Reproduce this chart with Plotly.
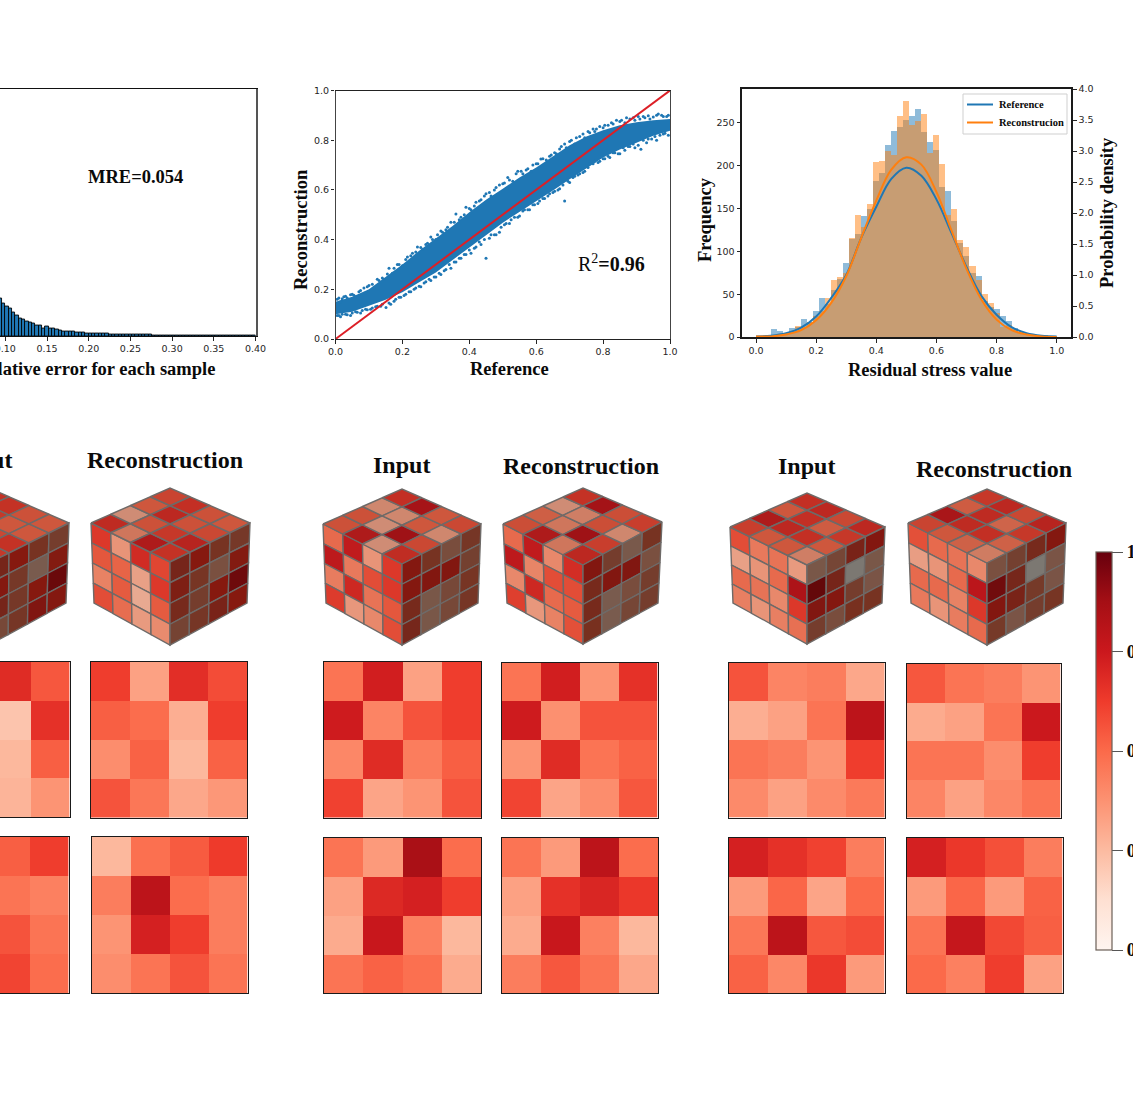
import numpy as np
import plotly.graph_objects as go

W, H = 1133, 1097
SERIF = "Liberation Serif"
SANS = "DejaVu Sans"
INK = "#262626"

# ---------- relative error histogram ----------
error_bin_starts = [round(0.092 + 0.004 * i, 3) for i in range(77)]
error_counts = [380, 330, 300, 280, 240, 210, 180, 167, 143, 137, 130, 110, 103, 80, 93, 80, 80, 67, 53, 47,
                45, 43, 42, 38, 35, 32, 30, 28, 26, 25, 24, 22, 21, 20, 19, 18, 19, 17, 15, 15,
                14, 13, 13, 12, 11, 11, 10, 10, 9, 9, 8, 8, 8, 7, 7, 7, 6, 6, 6, 5,
                5, 5, 5, 4, 4, 4, 4, 4, 3, 3, 3, 3, 3, 3, 2, 2, 2]
error_ticks = [0.10, 0.15, 0.20, 0.25, 0.30, 0.35, 0.40]

# ---------- reference / reconstruction scatter ----------
band_x = [0, .05, .1, .15, .2, .25, .3, .35, .4, .45, .5, .55, .6, .65, .7, .75, .8, .85, .9, .95, 1]
band_upper = [.15, .17, .2, .25, .3, .355, .405, .455, .51, .56, .605, .65, .69, .735, .78, .815, .84, .86, .872, .88, .885]
band_lower = [.1, .11, .135, .158, .188, .228, .268, .318, .368, .418, .468, .512, .555, .598, .643, .688, .73, .763, .79, .818, .838]
stray_x = [.005, .015, .025, .035, .05, .06, .075, .09, .1, .115, .13, .145, .16, .17, .185, .2, .215, .23, .245, .26,
           .27, .285, .3, .315, .33, .345, .36, .375, .39, .405, .42, .435, .45, .465, .48, .5, .515, .53, .545, .56,
           .57, .585, .6, .614, .63, .645, .66, .675, .69, .7, .715, .73, .745, .76, .775, .78, .8, .815, .83, .85,
           .865, .88, .895, .91, .925, .94, .965, .98, .995,
           .005, .015, .03, .045, .06, .075, .09, .105, .12, .135, .151, .165, .18, .195, .21, .225, .24, .255, .27, .285,
           .3, .315, .33, .345, .36, .375, .39, .405, .42, .435, .45, .46, .475, .49, .505, .52, .535, .55, .565, .58,
           .595, .61, .625, .64, .655, .67, .685, .70, .715, .73, .745, .76, .775, .79, .805, .82, .835, .85, .865, .88,
           .895, .913, .93, .945, .96, .98, .995]
stray_y = [.16, .15, .17, .165, .18, .17, .195, .185, .215, .205, .235, .24, .285, .265, .30, .295, .33, .345, .37, .36,
           .38, .41, .40, .435, .44, .47, .503, .49, .53, .52, .55, .56, .585, .575, .61, .625, .65, .635, .675, .665,
           .68, .675, .705, .724, .72, .74, .745, .775, .77, .795, .785, .815, .81, .83, .835, .845, .85, .86, .865, .875,
           .87, .885, .88, .885, .89, .885, .905, .895, .9,
           .095, .09, .10, .095, .11, .105, .12, .12, .13, .132, .127, .14, .16, .168, .18, .19, .205, .21, .23, .235,
           .25, .26, .28, .285, .31, .325, .34, .345, .37, .38, .325, .405, .42, .43, .46, .465, .49, .495, .52, .52,
           .54, .555, .565, .585, .595, .605, .555, .63, .655, .665, .675, .705, .715, .715, .725, .73, .75, .745, .76, .775,
           .77, .764, .79, .805, .80, .825, .82]
upper_rim_x = [.01, .02, .03, .045, .055, .07, .085, .095, .11, .125, .14, .155, .175, .19, .21, .225, .24, .255, .275, .29,
               .305, .32, .335, .355, .37, .385, .4, .415, .43, .445, .46, .475, .49, .505, .52, .54, .555, .575, .59, .605,
               .62, .64, .655, .67, .685, .705, .72, .74, .755, .77, .79, .805, .825, .84, .855, .87, .89, .905, .92, .935,
               .95, .96, .975, .99]
upper_rim_y = [.165, .162, .172, .178, .176, .19, .205, .21, .22, .24, .245, .262, .285, .30, .32, .335, .35, .368, .385, .40,
               .42, .43, .45, .47, .48, .50, .525, .535, .555, .575, .59, .60, .62, .628, .64, .665, .675, .685, .70, .705,
               .725, .735, .75, .765, .785, .80, .81, .825, .835, .845, .855, .86, .87, .88, .88, .89, .89, .895, .895, .898,
               .893, .9, .9, .895]
lower_rim_x = [.01, .02, .035, .05, .065, .08, .095, .11, .125, .14, .16, .175, .19, .205, .22, .235, .25, .265, .28, .295,
               .31, .325, .34, .355, .37, .385, .4, .415, .43, .445, .465, .48, .495, .51, .525, .545, .56, .575, .59, .605,
               .62, .635, .65, .665, .68, .695, .71, .725, .74, .755, .77, .785, .80, .815, .83, .845, .86, .875, .89, .905,
               .92, .935, .955, .97, .985]
lower_rim_y = [.095, .1, .098, .105, .108, .115, .118, .125, .132, .14, .145, .152, .168, .175, .19, .2, .212, .225, .24, .25,
               .265, .275, .3, .31, .325, .34, .358, .365, .39, .4, .42, .42, .45, .465, .48, .49, .515, .52, .54, .545,
               .565, .575, .59, .6, .62, .635, .65, .66, .67, .69, .705, .71, .725, .735, .75, .745, .77, .775, .785, .78,
               .8, .805, .815, .82, .828]
identity_line = [0, 1]
unit_ticks = [0, .2, .4, .6, .8, 1.0]

# ---------- residual stress distributions ----------
stress_bins = [round(.02 + .02 * i, 2) for i in range(49)]
reference_freq = [1, 2, 9, 7, 5, 10, 12, 21, 18, 30, 45, 38, 55, 68, 86, 115, 120, 141, 150, 182, 192, 224, 241, 245, 253,
                  258, 266, 240, 228, 218, 175, 171, 135, 110, 95, 75, 71, 42, 35, 33, 24, 19, 11, 6, 4, 3, 2, 2, 1]
reconstruction_freq = [.5, 1, 2, 3, 4, 7, 13, 12, 17, 24, 30, 45, 67, 70, 75, 116, 142, 128, 155, 204, 206, 217, 213, 258, 276,
                       248, 252, 260, 215, 236, 202, 143, 150, 113, 105, 83, 67, 50, 40, 28, 12, 14, 9, 5, 3, 2, 1.5, 1, .5]
density_x = [0, .05, .1, .15, .2, .25, .3, .35, .4, .45, .5, .55, .6, .65, .7, .75, .8, .85, .9, .95, 1]
reference_density = [.01, .02, .06, .15, .33, .63, 1.0, 1.6, 2.1, 2.55, 2.73, 2.6, 2.22, 1.68, 1.13, .66, .36, .16, .06, .02, .01]
reconstruction_density = [.01, .01, .04, .11, .27, .55, .98, 1.6, 2.2, 2.7, 2.9, 2.78, 2.34, 1.72, 1.1, .6, .28, .11, .04, .01, 0]

# ---------- slice fields shown under each cube ----------
slice_a1 = [[.68, .55], [.22, .66], [.26, .53], [.27, .37]]
slice_a2 = [[.53, .62], [.47, .43], [.56, .47], [.60, .49]]
slice_b1 = [[.62, .33, .67, .58], [.53, .49, .29, .62], [.39, .52, .26, .52], [.56, .46, .31, .36]]
slice_b2 = [[.26, .48, .54, .63], [.44, .80, .49, .44], [.37, .72, .62, .44], [.39, .47, .56, .47]]
slice_c1 = [[.47, .73, .33, .62], [.74, .42, .56, .62], [.41, .68, .44, .53], [.61, .32, .37, .56]]
slice_c2 = [[.47, .35, .86, .49], [.33, .69, .72, .62], [.30, .76, .43, .26], [.47, .52, .48, .30]]
slice_d1 = [[.47, .73, .37, .66], [.74, .38, .56, .56], [.37, .68, .47, .52], [.60, .32, .39, .55]]
slice_d2 = [[.47, .35, .80, .49], [.33, .66, .70, .64], [.30, .76, .43, .26], [.44, .55, .47, .31]]
slice_e1 = [[.56, .42, .44, .31], [.29, .33, .47, .80], [.47, .44, .37, .62], [.40, .33, .40, .45]]
slice_e2 = [[.72, .66, .61, .44], [.35, .51, .32, .50], [.46, .80, .55, .58], [.52, .41, .64, .35]]
slice_f1 = [[.55, .47, .44, .37], [.30, .33, .47, .75], [.47, .47, .39, .62], [.42, .33, .41, .47]]
slice_f2 = [[.72, .64, .57, .44], [.35, .51, .35, .52], [.47, .77, .59, .53], [.50, .43, .62, .33]]

# ---------- top and right faces of each cube ----------
top_a = [[.50, .50, .55, .60], [.55, .55, .55, .62], [.50, .60, .50, .50], [.62, .62, .52, .50]]
right_a = [[.60, .70, .48, .42], [.72, .45, .25, .68], [.60, .45, .70, .92], [.35, .46, .78, .72]]
top_b = [[.65, .38, .72, .62], [.30, .52, .60, .68], [.50, .66, .52, .55], [.56, .63, .52, .50]]
right_b = [[.60, .70, .48, .45], [.65, .47, .30, .68], [.55, .42, .70, .90], [.38, .46, .62, .70]]
top_c = [[.52, .72, .30, .64], [.52, .30, .78, .55], [.32, .32, .50, .32], [.63, .75, .50, .55]]
right_c = [[.72, .48, .32, .46], [.72, .75, .75, .40], [.55, .27, .35, .47], [.58, .27, .35, .46]]
top_d = [[.53, .72, .38, .66], [.47, .38, .78, .58], [.30, .35, .53, .32], [.62, .76, .53, .58]]
right_d = [[.75, .42, .26, .48], [.55, .75, .76, .30], [.55, .25, .32, .42], [.50, .25, .36, .42]]
top_e = [[.58, .50, .50, .35], [.72, .66, .63, .50], [.50, .63, .48, .60], [.63, .66, .55, .66]]
right_e = [[.27, .36, .62, .74], [.95, .60, .10, .27], [.76, .72, .42, .28], [.42, .32, .50, .48]]
top_f = [[.56, .50, .46, .36], [.74, .65, .63, .46], [.48, .65, .45, .60], [.60, .66, .55, .68]]
right_f = [[.30, .40, .55, .72], [.88, .58, .10, .28], [.74, .62, .44, .28], [.44, .28, .42, .47]]

# ---------- colour bar ----------
bar_ticks = [0, .25, .5, .75, 1]
bar_labels = ["0.00", "0.25", "0.50", "0.75", "1.00"]

REDS = ["#fff5f0", "#fee0d2", "#fcbba1", "#fc9272", "#fb6a4a", "#ef3b2c", "#cb181d", "#a50f15", "#67000d"]
# Shadowed side of a cube: tones stay brown and grey where the field is low.
SHADOW_LEVELS = [.1, .2, .3, .4, .5, .6, .7, .8, .9, 1]
SHADOW = ["#7c7872", "#78665c", "#7a5040", "#744030", "#78301f", "#76251a", "#86190f", "#7e1512", "#6e0a0c", "#5a0508"]


def rgb(hex_colour):
    return [int(hex_colour[i:i + 2], 16) for i in (1, 3, 5)]


def lerp_colour(v, levels, colours, gain=1.0):
    table = np.array([rgb(c) for c in colours], float)
    out = [np.interp(v, levels, table[:, k]) * gain for k in range(3)]
    return "rgb({:.0f},{:.0f},{:.0f})".format(*out)


def lit(v, gain):
    return lerp_colour(v, np.linspace(0, 1, 9), REDS, gain)


def shadow(v):
    return lerp_colour(v, SHADOW_LEVELS, SHADOW)


def x_dom(left, right):
    return [max(left, 0) / W, min(right, W) / W]


def y_dom(top, bottom):
    return [1 - bottom / H, 1 - top / H]


fig = go.Figure()
annotations = []
shapes = []
layout_axes = {}


def label(text, x, y, size=18.5, rotate=0, anchor="center", weight="bold"):
    body = f"<b>{text}</b>" if weight == "bold" else text
    annotations.append(dict(text=body, x=x / W, y=1 - y / H, xref="paper", yref="paper",
                            xanchor=anchor, yanchor="middle", showarrow=False, textangle=rotate,
                            font=dict(family=SERIF, size=size, color="#0a0a0a")))


def box_shape(kind, x0, y0, x1, y1, **style):
    shapes.append(dict(type=kind, xref="paper", yref="paper", x0=x0 / W, x1=x1 / W, y0=1 - y0 / H, y1=1 - y1 / H, **style))


tick_style = dict(ticks="outside", ticklen=3.5, tickwidth=0.9, tickcolor=INK, showgrid=False, zeroline=False,
                  tickfont=dict(family=SANS, size=9.5, color=INK))

# Panel 1: relative error histogram, its left part runs past the page edge
fig.add_trace(go.Bar(x=[s + .002 for s in error_bin_starts], y=error_counts, width=.004,
                     marker=dict(color="#1f77b4", line=dict(color="#000000", width=.9)),
                     xaxis="x", yaxis="y", showlegend=False))
layout_axes["xaxis"] = dict(domain=x_dom(0, 255.5), range=[.0936, .40], anchor="y", showline=True, mirror=True,
                            linecolor="#111111", linewidth=1.2, tickvals=error_ticks, ticktext=[f"{t:.2f}" for t in error_ticks],
                            ticklabeloverflow="allow", **tick_style)
layout_axes["yaxis"] = dict(domain=y_dom(88.5, 336), range=[0, 2475], anchor="x", side="right", showline=True,
                            linecolor="#555555", linewidth=1.6, showticklabels=False, ticks="", showgrid=False, zeroline=False)
label("MRE=0.054", 135, 177)
label("Relative error for each sample", 217, 369, anchor="right")

# Panel 2: reconstruction against reference
band_xs = band_x + band_x[::-1]
band_ys = band_upper + band_lower[::-1]
fig.add_trace(go.Scatter(x=band_xs, y=band_ys, mode="lines", fill="toself", fillcolor="#1f77b4",
                         line=dict(width=0, color="#1f77b4"), xaxis="x2", yaxis="y2", showlegend=False))
fig.add_trace(go.Scatter(x=stray_x + upper_rim_x + lower_rim_x, y=stray_y + upper_rim_y + lower_rim_y, mode="markers",
                         marker=dict(color="#1f77b4", size=3), xaxis="x2", yaxis="y2", showlegend=False))
fig.add_trace(go.Scatter(x=identity_line, y=identity_line, mode="lines", line=dict(color="#dc1f26", width=2),
                         xaxis="x2", yaxis="y2", showlegend=False))
layout_axes["xaxis2"] = dict(domain=x_dom(335.5, 670), range=[0, 1], anchor="y2", showline=True, mirror=True,
                             linecolor="#222222", linewidth=1.2, tickvals=unit_ticks, ticktext=[f"{t:.1f}" for t in unit_ticks],
                             **tick_style)
layout_axes["yaxis2"] = dict(domain=y_dom(90.5, 339), range=[0, 1], anchor="x2", showline=True, mirror=True,
                             linecolor="#444444", linewidth=1.2, tickvals=unit_ticks, ticktext=[f"{t:.1f}" for t in unit_ticks],
                             **tick_style)
label("Reconstruction", 301, 230, rotate=-90)
label("Reference", 509, 369)
annotations.append(dict(text="R<sup>2</sup><b>=0.96</b>", x=611 / W, y=1 - 262.5 / H, xref="paper", yref="paper",
                        xanchor="center", yanchor="middle", showarrow=False,
                        font=dict(family=SERIF, size=20, color="#0a0a0a")))

# Panel 3: residual stress histograms with density curves on a second scale
fig.add_trace(go.Bar(x=stress_bins, y=reference_freq, width=.02, marker=dict(color="rgba(31,119,180,.5)", line=dict(width=0)),
                     xaxis="x3", yaxis="y3", showlegend=False))
fig.add_trace(go.Bar(x=stress_bins, y=reconstruction_freq, width=.02, marker=dict(color="rgba(255,127,14,.5)", line=dict(width=0)),
                     xaxis="x3", yaxis="y3", showlegend=False))
fig.add_trace(go.Scatter(x=density_x, y=reference_density, mode="lines", name="Reference", line=dict(color="#1f77b4", width=2, shape="spline"),
                         xaxis="x3", yaxis="y4", showlegend=False))
fig.add_trace(go.Scatter(x=density_x, y=reconstruction_density, mode="lines", name="Reconstrucion", line=dict(color="#ff7f0e", width=2, shape="spline"),
                         xaxis="x3", yaxis="y4", showlegend=False))
layout_axes["xaxis3"] = dict(domain=x_dom(742, 1071), range=[-.0466, 1.0476], anchor="y3", showline=True, mirror=True,
                             linecolor="#1a1a1a", linewidth=2, tickvals=unit_ticks, ticktext=[f"{t:.1f}" for t in unit_ticks],
                             **tick_style)
layout_axes["yaxis3"] = dict(domain=y_dom(89, 337), range=[0, 289.7], anchor="x3", showline=True, linecolor="#1a1a1a", linewidth=2,
                             tickvals=[0, 50, 100, 150, 200, 250], **tick_style)
layout_axes["yaxis4"] = dict(domain=y_dom(89, 337), range=[0, 4], anchor="x3", overlaying="y3", side="right", showline=True,
                             linecolor="#1a1a1a", linewidth=2, tickvals=[0, .5, 1, 1.5, 2, 2.5, 3, 3.5, 4],
                             ticktext=["0.0", "0.5", "1.0", "1.5", "2.0", "2.5", "3.0", "3.5", "4.0"], **tick_style)
label("Frequency", 705, 220, rotate=-90)
label("Probability density", 1107, 213, rotate=-90)
label("Residual stress value", 930, 369.5)

# Compact key for the two density curves
box_shape("rect", 963, 94, 1067, 134, fillcolor="rgba(255,255,255,.9)", line=dict(color="#cfcfcf", width=1))
for name, colour, row in (("Reference", "#1f77b4", 104.5), ("Reconstrucion", "#ff7f0e", 122.5)):
    box_shape("line", 967, row, 993, row, line=dict(color=colour, width=2))
    label(name, 997, row, size=10.5, anchor="left")

# Slice fields in pixel boxes: left, right, top, bottom
slices = [
    (slice_a1, -86, 69.5, 662, 817), (slice_a2, -87, 68.5, 837, 993),
    (slice_b1, 90.5, 247, 662, 817.5), (slice_b2, 91.5, 247.5, 837, 993),
    (slice_c1, 324, 481, 662, 817.5), (slice_c2, 324, 481, 837.5, 993),
    (slice_d1, 501.5, 657.5, 662.5, 817.5), (slice_d2, 502, 658, 837.5, 993),
    (slice_e1, 729, 884.5, 662.5, 817.5), (slice_e2, 728.5, 884.5, 837.5, 993),
    (slice_f1, 906.5, 1060.5, 664, 817.5), (slice_f2, 906.5, 1062.5, 837.5, 993),
]
axis_no = 5
for z, left, right, top, bottom in slices:
    ncols = len(z[0])
    cols = [4 - ncols + i + .5 for i in range(ncols)]
    clipped = left < 0
    x_low = 4 - 4 * right / (right - left) if clipped else 0
    fig.add_trace(go.Heatmap(z=z, x=cols, y=[.5, 1.5, 2.5, 3.5], coloraxis="coloraxis", xaxis=f"x{axis_no}", yaxis=f"y{axis_no}",
                             hoverinfo="skip"))
    frame = dict(showline=True, linecolor="#1a1a1a", linewidth=1.3, showticklabels=False, ticks="", showgrid=False, zeroline=False)
    layout_axes[f"xaxis{axis_no}"] = dict(domain=x_dom(left, right), range=[x_low, 4], anchor=f"y{axis_no}", mirror=True, **frame)
    layout_axes[f"yaxis{axis_no}"] = dict(domain=y_dom(top, bottom), range=[4, 0], anchor=f"x{axis_no}",
                                          side="right" if clipped else "left", mirror=not clipped, **frame)
    axis_no += 1

# Cubes drawn in page pixels on one hidden axis pair; corners are L, T, R, F, BL, BR, B
cube_axis = f"{axis_no}"
layout_axes[f"xaxis{cube_axis}"] = dict(domain=[0, 1], range=[0, W], visible=False, anchor=f"y{cube_axis}")
layout_axes[f"yaxis{cube_axis}"] = dict(domain=[0, 1], range=[H, 0], visible=False, anchor=f"x{cube_axis}")

cubes = [
    dict(L=(-91, 523), T=(-11, 488), R=(69, 523), F=(-11, 563), BL=(-88, 603), BR=(66, 603), B=(-11, 645),
         left=None, top=top_a, right=right_a),
    dict(L=(91, 523), T=(170, 488), R=(250, 523), F=(170, 562), BL=(94, 603), BR=(247, 603), B=(170, 645),
         left=slice_b1, top=top_b, right=right_b),
    dict(L=(323, 524), T=(402, 489), R=(481, 524), F=(402, 564), BL=(326, 603), BR=(478, 603), B=(402, 645),
         left=slice_c1, top=top_c, right=right_c),
    dict(L=(503, 524), T=(583, 488), R=(662, 522), F=(583, 565), BL=(507, 603), BR=(658, 603), B=(583, 644),
         left=slice_d1, top=top_d, right=right_d),
    dict(L=(730, 527), T=(807, 493), R=(885, 527), F=(807, 565), BL=(733, 603), BR=(882, 603), B=(807, 644),
         left=slice_e1, top=top_e, right=right_e),
    dict(L=(908, 523), T=(987, 489), R=(1066, 523), F=(987, 563), BL=(911, 603), BR=(1063, 603), B=(987, 645),
         left=slice_f1, top=top_f, right=right_f),
]


def patch(p00, p01, p10, p11, u, v):
    """Point at (u, v) on a four-cornered face; u runs p00->p01, v runs p00->p10."""
    a = np.array(p00, float)
    b = np.array(p01, float)
    c = np.array(p10, float)
    d = np.array(p11, float)
    return (1 - v) * ((1 - u) * a + u * b) + v * ((1 - u) * c + u * d)


def draw_face(corners, values, colour_of):
    for row, line in enumerate(values):
        for col, value in enumerate(line):
            pts = [patch(*corners, col / 4, row / 4), patch(*corners, (col + 1) / 4, row / 4),
                   patch(*corners, (col + 1) / 4, (row + 1) / 4), patch(*corners, col / 4, (row + 1) / 4)]
            pts.append(pts[0])
            fig.add_trace(go.Scatter(x=[p[0] for p in pts], y=[p[1] for p in pts], mode="lines", fill="toself",
                                     fillcolor=colour_of(value), line=dict(color="#6e6a68", width=1.4),
                                     xaxis=f"x{cube_axis}", yaxis=f"y{cube_axis}", showlegend=False, hoverinfo="skip"))


for c in cubes:
    if c["left"] is not None:
        draw_face((c["L"], c["F"], c["BL"], c["B"]), c["left"], lambda v: lit(v, .92))
    # Top rows run along the front-left edge first and step towards the back corner
    draw_face((c["L"], c["F"], c["T"], c["R"]), c["top"], lambda v: lit(v, .82))
    draw_face((c["F"], c["R"], c["B"], c["BR"]), c["right"], shadow)

label("Input", -16.5, 460, size=24)
label("Reconstruction", 164.7, 460, size=24)
label("Input", 401.5, 465, size=24)
label("Reconstruction", 581, 466, size=24)
label("Input", 806.5, 466, size=24)
label("Reconstruction", 994, 469, size=24)

# The cube axes cover the whole page, so plot backgrounds stay see-through
fig.update_layout(
    width=W, height=H, margin=dict(l=0, r=0, t=0, b=0, autoexpand=False),
    paper_bgcolor="white", plot_bgcolor="rgba(0,0,0,0)", barmode="overlay", bargap=0,
    annotations=annotations, shapes=shapes, showlegend=False,
    coloraxis=dict(colorscale="Reds", cmin=0, cmax=1,
                   colorbar=dict(x=1096 / W, xanchor="left", xpad=0, y=1 - 751 / H, yanchor="middle", ypad=0,
                                 thicknessmode="pixels", thickness=16, lenmode="pixels", len=398,
                                 outlinecolor="#6b5f58", outlinewidth=1.2, ticks="outside", ticklen=11, tickwidth=1,
                                 tickcolor="#555555", tickvals=bar_ticks, ticktext=bar_labels,
                                 tickfont=dict(family=SERIF, size=18, color="#0a0a0a", weight="bold"))),
    **layout_axes,
)
fig.write_html("out.html")
